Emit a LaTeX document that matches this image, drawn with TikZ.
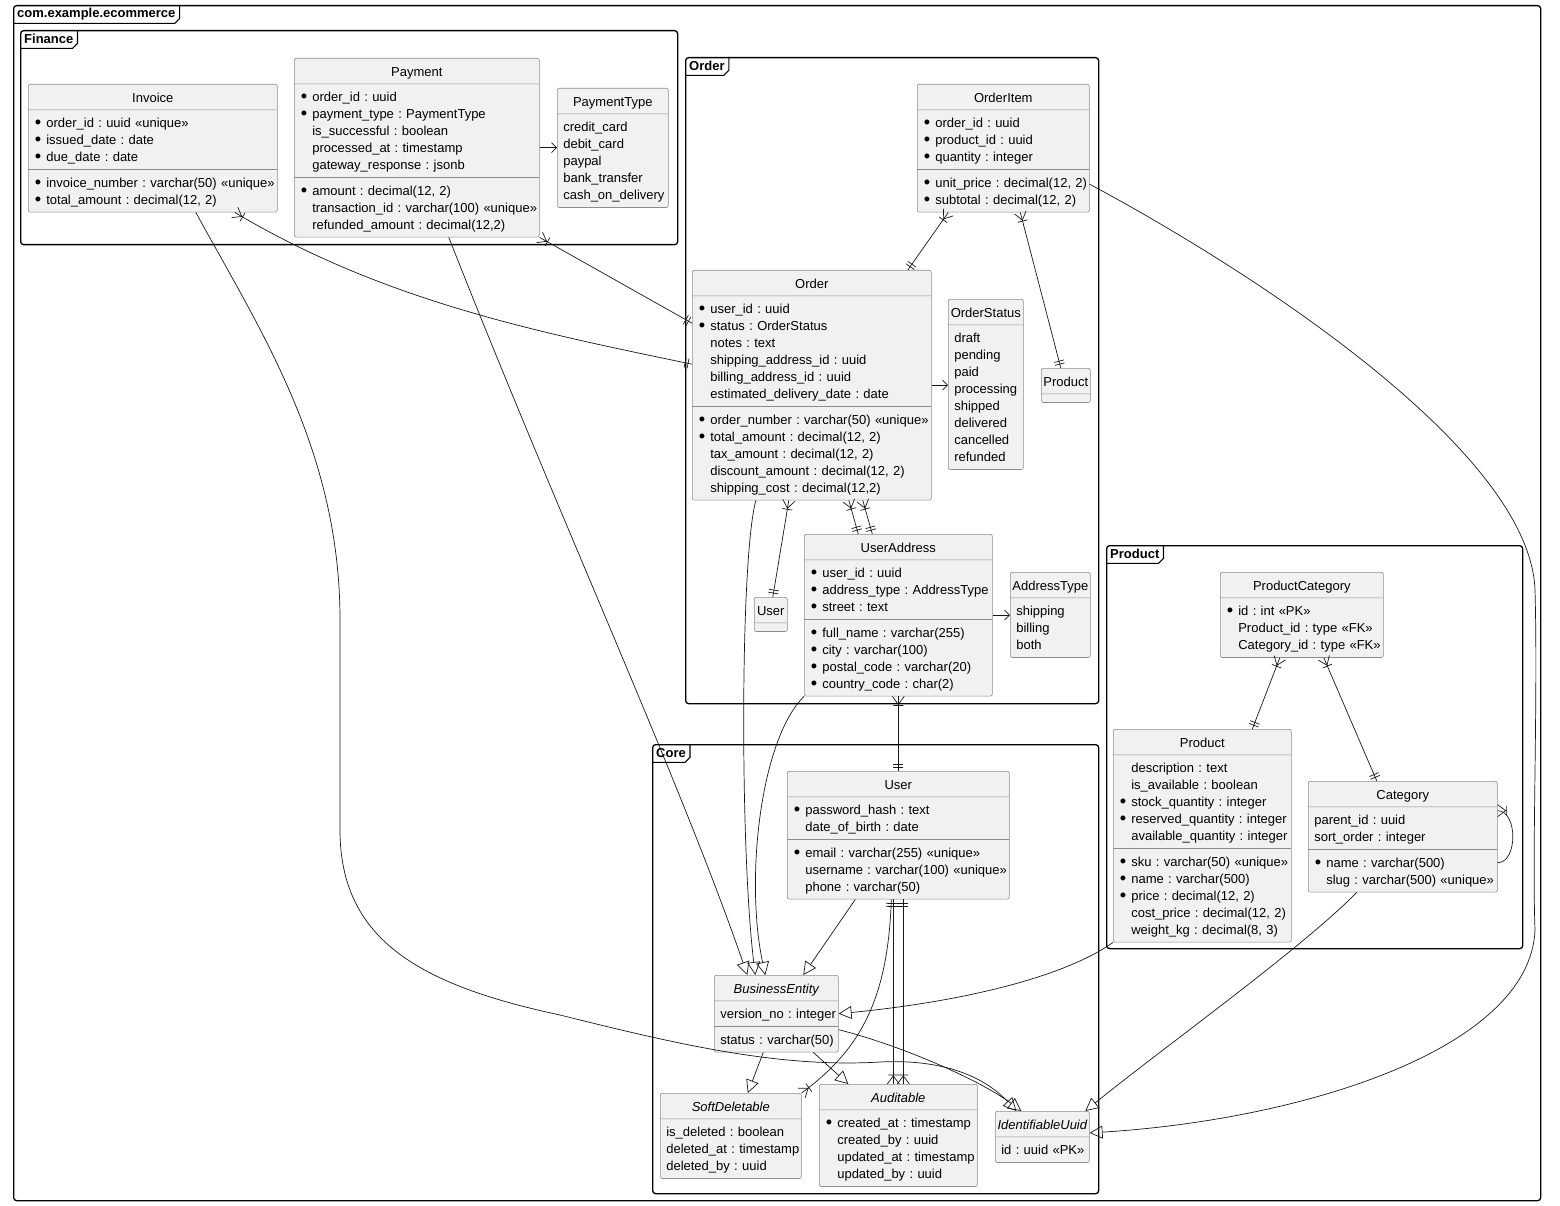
\documentclass[tikz,border=0pt]{standalone}
\usepackage{fontspec}
\setmainfont{Liberation Sans}
\usetikzlibrary{positioning}
\usetikzlibrary{arrows.meta, shapes.multipart, decorations.markings}

\definecolor{classfill}{HTML}{F1F1F1}
\definecolor{classline}{HTML}{8C8C8C}
\definecolor{relline}{HTML}{181818}

\newcommand{\fstrut}{\rule[-3.5pt]{0pt}{17pt}}
\newcommand{\ctitle}[1]{\makebox[\linewidth]{\fstrut #1}}
\newcommand{\bul}[1]{\fstrut\makebox[12pt][l]{\hspace*{0.5pt}\raisebox{-0.8pt}{\scalebox{1.4}{\textbullet}}}\mbox{#1}}
\newcommand{\nob}[1]{\fstrut\hspace*{12pt}\mbox{#1}}
\newcommand{\fld}[1]{\fstrut\mbox{#1}}

\tikzset{
  umlclass/.style={rectangle split, rectangle split parts=3, draw=classline, fill=classfill,
    line width=0.6pt, rounded corners=2pt, anchor=north west, align=left,
    inner xsep=6pt, inner ysep=4pt, font=\fontsize{13}{17}\selectfont\frenchspacing},
  shortclass/.style={umlclass, rectangle split parts=2},
  pkg/.style={draw, line width=1.3pt, rounded corners=3pt, anchor=north west, inner sep=0pt},
  pkgtitle/.style={anchor=north west, inner xsep=4pt, inner ysep=0pt, minimum height=18pt,
    font=\fontsize{13}{17}\selectfont\bfseries},
  pkgtab/.style={draw, line width=1.1pt},
  rel/.style={draw=relline, line width=0.7pt},
  extends/.style={rel, -{Triangle[open, length=13pt, width=13pt]}},
  uses/.style={rel, -{Straight Barb[length=5pt, width=10pt]}},
  many start/.style={postaction={decorate, decoration={markings, mark=at position 0 with
    {\draw[rel] (0pt,6pt) -- (8pt,0pt) -- (0pt,-6pt) (9pt,5pt) -- (9pt,-5pt);}}}},
  many end/.style={postaction={decorate, decoration={markings, mark=at position 0.9999 with
    {\draw[rel] (0pt,6pt) -- (-8pt,0pt) -- (0pt,-6pt) (-9pt,5pt) -- (-9pt,-5pt);}}}},
  one start/.style={postaction={decorate, decoration={markings, mark=at position 0 with
    {\draw[rel] (4pt,5pt) -- (4pt,-5pt) (7pt,5pt) -- (7pt,-5pt);}}}},
  one end/.style={postaction={decorate, decoration={markings, mark=at position 0.9999 with
    {\draw[rel] (-4pt,5pt) -- (-4pt,-5pt) (-7pt,5pt) -- (-7pt,-5pt);}}}}
}

\begin{document}
\begin{tikzpicture}[x=1pt, y=-1pt]
  \fill[white] (0,0) rectangle (1560,1206);
  \useasboundingbox (0,0) rectangle (1560,1206);

  % Packages
  \begin{scope}
    \node (ecommerce) at (13,5) [pkg, minimum width=1527pt, minimum height=1195pt] {};
    \node (ecommerce_title) at (ecommerce.north west) [pkgtitle] {com.example.ecommerce};

    \node (finance) at (20,30) [pkg, minimum width=657pt, minimum height=214pt] {};
    \node (finance_title) at (finance.north west) [pkgtitle] {Finance};

    \node (orders) at (685,57) [pkg, minimum width=413pt, minimum height=646pt] {};
    \node (orders_title) at (orders.north west) [pkgtitle] {Order};

    \node (products) at (1106,545) [pkg, minimum width=416pt, minimum height=403pt] {};
    \node (products_title) at (products.north west) [pkgtitle] {Product};

    \node (core) at (652,744) [pkg, minimum width=446pt, minimum height=449pt] {};
    \node (core_title) at (core.north west) [pkgtitle] {Core};

    \foreach \ttl in {ecommerce_title, finance_title, orders_title, products_title, core_title}
      \draw[pkgtab] (\ttl.north east) -- ([yshift=5pt]\ttl.south east) -- ([xshift=-5pt]\ttl.south east) -- (\ttl.south west);
  \end{scope}

  % Finance
  \begin{scope}
    \node (invoice) at (28,84) [umlclass, text width=237pt] {\ctitle{Invoice}
      \nodepart{two}\bul{order\_id : uuid «unique»}\\ \bul{issued\_date : date}\\ \bul{due\_date : date}
      \nodepart{three}\bul{invoice\_number : varchar(50) «unique»}\\ \bul{total\_amount : decimal(12, 2)}};
    \node (payment) at (294,58) [umlclass, text width=233pt] {\ctitle{Payment}
      \nodepart{two}\bul{order\_id : uuid}\\ \bul{payment\_type : PaymentType}\\ \nob{is\_successful : boolean}\\ \nob{processed\_at : timestamp}\\ \nob{gateway\_response : jsonb}
      \nodepart{three}\bul{amount : decimal(12, 2)}\\ \nob{transaction\_id : varchar(100) «unique»}\\ \nob{refunded\_amount : decimal(12,2)}};
    \node (paytype) at (557,88) [shortclass, text width=99pt] {\ctitle{PaymentType}
      \nodepart{two}\fld{credit\_card}\\ \fld{debit\_card}\\ \fld{paypal}\\ \fld{bank\_transfer}\\ \fld{cash\_on\_delivery}};
  \end{scope}

  % Order
  \begin{scope}
    \node (orderitem) at (917,84) [umlclass, text width=160pt] {\ctitle{OrderItem}
      \nodepart{two}\bul{order\_id : uuid}\\ \bul{product\_id : uuid}\\ \bul{quantity : integer}
      \nodepart{three}\bul{unit\_price : decimal(12, 2)}\\ \bul{subtotal : decimal(12, 2)}};
    \node (order) at (692,270) [umlclass, text width=227pt] {\ctitle{Order}
      \nodepart{two}\bul{user\_id : uuid}\\ \bul{status : OrderStatus}\\ \nob{notes : text}\\ \nob{shipping\_address\_id : uuid}\\ \nob{billing\_address\_id : uuid}\\ \nob{estimated\_delivery\_date : date}
      \nodepart{three}\bul{order\_number : varchar(50) «unique»}\\ \bul{total\_amount : decimal(12, 2)}\\ \nob{tax\_amount : decimal(12, 2)}\\ \nob{discount\_amount : decimal(12, 2)}\\ \nob{shipping\_cost : decimal(12,2)}};
    \node (ostatus) at (948,299) [shortclass, text width=63pt] {\ctitle{OrderStatus}
      \nodepart{two}\fld{draft}\\ \fld{pending}\\ \fld{paid}\\ \fld{processing}\\ \fld{shipped}\\ \fld{delivered}\\ \fld{cancelled}\\ \fld{refunded}};
    \node (productref) at (1041,368) [shortclass, text width=37pt] {\ctitle{Product}\nodepart{two}};
    \node (userref) at (754,597) [shortclass, text width=21pt] {\ctitle{User}\nodepart{two}};
    \node (useraddr) at (804,534) [umlclass, text width=176pt] {\ctitle{UserAddress}
      \nodepart{two}\bul{user\_id : uuid}\\ \bul{address\_type : AddressType}\\ \bul{street : text}
      \nodepart{three}\bul{full\_name : varchar(255)}\\ \bul{city : varchar(100)}\\ \bul{postal\_code : varchar(20)}\\ \bul{country\_code : char(2)}};
    \node (addrtype) at (1010,572) [shortclass, text width=68pt] {\ctitle{AddressType}
      \nodepart{two}\fld{shipping}\\ \fld{billing}\\ \fld{both}};
  \end{scope}

  % Product
  \begin{scope}
    \node (prodcat) at (1220,572) [shortclass, text width=151pt] {\ctitle{ProductCategory}
      \nodepart{two}\bul{id : int «PK»}\\ \nob{Product\_id : type «FK»}\\ \nob{Category\_id : type «FK»}};
    \node (product) at (1113,729) [umlclass, text width=166pt] {\ctitle{Product}
      \nodepart{two}\nob{description : text}\\ \nob{is\_available : boolean}\\ \bul{stock\_quantity : integer}\\ \bul{reserved\_quantity : integer}\\ \nob{available\_quantity : integer}
      \nodepart{three}\bul{sku : varchar(50) «unique»}\\ \bul{name : varchar(500)}\\ \bul{price : decimal(12, 2)}\\ \nob{cost\_price : decimal(12, 2)}\\ \nob{weight\_kg : decimal(8, 3)}};
    \node (category) at (1308,781) [umlclass, text width=177pt] {\ctitle{Category}
      \nodepart{two}\fld{parent\_id : uuid}\\ \fld{sort\_order : integer}
      \nodepart{three}\bul{name : varchar(500)}\\ \nob{slug : varchar(500) «unique»}};
  \end{scope}

  % Core
  \begin{scope}
    \node (user) at (787,771) [umlclass, text width=210pt] {\ctitle{User}
      \nodepart{two}\bul{password\_hash : text}\\ \nob{date\_of\_birth : date}
      \nodepart{three}\bul{email : varchar(255) «unique»}\\ \nob{username : varchar(100) «unique»}\\ \nob{phone : varchar(50)}};
    \node (busent) at (714,975) [umlclass, text width=112pt] {\ctitle{\itshape BusinessEntity}
      \nodepart{two}\fld{version\_no : integer}
      \nodepart{three}\fld{status : varchar(50)}};
    \node (softdel) at (660,1093) [shortclass, text width=129pt] {\ctitle{\itshape SoftDeletable}
      \nodepart{two}\fld{is\_deleted : boolean}\\ \fld{deleted\_at : timestamp}\\ \fld{deleted\_by : uuid}};
    \node (audit) at (819,1084) [shortclass, text width=146pt] {\ctitle{\itshape Auditable}
      \nodepart{two}\bul{created\_at : timestamp}\\ \nob{created\_by : uuid}\\ \nob{updated\_at : timestamp}\\ \nob{updated\_by : uuid}};
    \node (iduuid) at (995,1111) [shortclass, text width=82pt] {\ctitle{\itshape IdentifiableUuid}
      \nodepart{two}\fld{id : uuid «PK»}};
  \end{scope}

  % Enum links
  \draw[uses] (payment.east) -- (payment.east -| paytype.west);
  \draw[uses] (order.east) -- (order.east -| ostatus.west);
  \draw[uses] (useraddr.east) -- (useraddr.east -| addrtype.west);

  % Associations
  \draw[rel, many start, one end] ([xshift=82pt]invoice.south) .. controls (385,302) and (542,333) .. ([yshift=21pt]order.west);
  \draw[rel, many start, one end] (payment.south east) -- ([yshift=62pt]order.west);
  \draw[rel, many start, one end] ([xshift=-55pt]orderitem.south) -- ([xshift=96pt]order.north);
  \draw[rel, many start, one end] ([xshift=17pt]orderitem.south) -- ([xshift=-5pt]productref.north);
  \draw[rel, many start, one end] ([xshift=-23pt]order.south) -- ([xshift=2pt]userref.north);
  \draw[rel, many start, one end] ([xshift=37pt]order.south) -- ([xshift=-40pt]useraddr.north);
  \draw[rel, many start, one end] ([xshift=51pt]order.south) -- ([xshift=-26pt]useraddr.north);
  \draw[rel, many start, one end] (useraddr.south) -- (user.north);
  \draw[rel, many start, one end] ([xshift=-22pt]prodcat.south) -- ([xshift=50pt]product.north);
  \draw[rel, many start, one end] ([xshift=22pt]prodcat.south) -- ([xshift=-26pt]category.north);
  \draw[rel, many start, one end] ([yshift=26pt]category.east) to[out=0, in=0] ([yshift=-26pt]category.east);
  \draw[rel, one start, many end] ([xshift=-5pt]user.south) -- ([xshift=-5pt]audit.north);
  \draw[rel, one start, many end] ([xshift=5pt]user.south) -- ([xshift=5pt]audit.north);
  \draw[rel, one start, many end] ([xshift=-7pt]user.south) .. controls (888,1000) and (860,1050) .. (softdel.north east);

  % Inheritance
  \draw[extends] ([xshift=32pt]payment.south) .. controls (560,520) and (680,780) .. ([xshift=-29pt]busent.north);
  \draw[extends] ([xshift=-56pt]order.south) .. controls (740,560) and (740,850) .. ([xshift=-21pt]busent.north);
  \draw[extends] (useraddr.south west) .. controls (760,740) and (745,880) .. ([xshift=-11pt]busent.north);
  \draw[extends] ([xshift=-43pt]user.south) -- ([xshift=27pt]busent.north);
  \draw[extends] (product.south west) .. controls (1060,980) and (950,1003) .. (busent.east);
  \draw[extends] ([xshift=-13pt]busent.south) -- ([xshift=17pt]softdel.north);
  \draw[extends] ([xshift=37pt]busent.south) -- ([xshift=-50pt]audit.north);
  \draw[extends] ([yshift=-16pt]busent.east) .. controls (900,1045) and (980,1080) .. ([xshift=-21pt]iduuid.north);
  \draw[extends] ([xshift=43pt]invoice.south) .. controls (260,330) and (340,450) .. (340,620) -- (340,830)
    .. controls (340,940) and (420,985) .. (560,1015) .. controls (680,1045) and (780,1068) .. (880,1062)
    .. controls (960,1058) and (995,1088) .. ([xshift=-26pt]iduuid.north);
  \draw[extends] ([xshift=-46pt]category.south) .. controls (1300,950) and (1160,1050) .. ([xshift=43pt]iduuid.north);
  \draw[extends] ([yshift=-36pt]orderitem.east) .. controls (1250,270) and (1530,450) .. (1535,590)
    .. controls (1538,700) and (1532,850) .. (1535,930) .. controls (1530,1050) and (1300,1120) .. ([yshift=4pt]iduuid.east);
\end{tikzpicture}
\end{document}
